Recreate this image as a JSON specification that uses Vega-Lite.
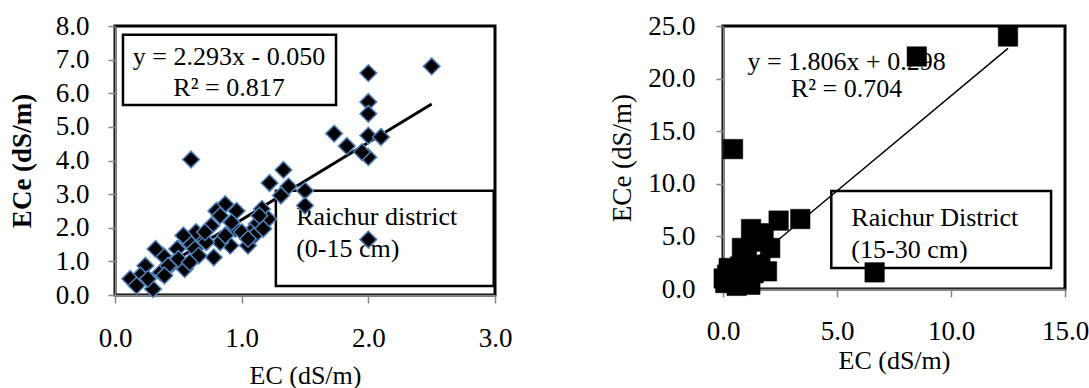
{
  "$schema": "https://vega.github.io/schema/vega-lite/v6.json",
  "background": "white",
  "padding": {"left": 6, "top": 10, "right": 0, "bottom": 0},
  "spacing": 93,
  "config": {
    "font": "Liberation Serif",
    "view": {"stroke": "black", "strokeWidth": 3},
    "style": {"guide-label": {"font": "Liberation Serif"}, "guide-title": {"font": "Liberation Serif"}},
    "axis": {
      "grid": false,
      "domainColor": "#868686",
      "domainWidth": 1.5,
      "tickColor": "#868686",
      "tickWidth": 1.5,
      "labelFont": "Liberation Serif",
      "labelFontSize": 27,
      "labelColor": "black",
      "titleFont": "Liberation Serif",
      "titleFontSize": 26,
      "titleColor": "black",
      "titleFontWeight": "normal",
      "labelFlush": false,
      "labelOverlap": false,
      "labelSeparation": 0
    }
  },
  "datasets": {
    "top": [
      {"ec": 2.5, "ece": 6.8}, {"ec": 2.0, "ece": 6.6}, {"ec": 2.0, "ece": 5.74}, {"ec": 2.0, "ece": 5.39},
      {"ec": 2.0, "ece": 4.74}, {"ec": 2.1, "ece": 4.7}, {"ec": 2.0, "ece": 4.1}, {"ec": 1.95, "ece": 4.25},
      {"ec": 1.83, "ece": 4.43}, {"ec": 1.73, "ece": 4.8}, {"ec": 0.6, "ece": 4.03}, {"ec": 2.0, "ece": 1.65},
      {"ec": 1.33, "ece": 3.72}, {"ec": 1.22, "ece": 3.33}, {"ec": 1.37, "ece": 3.23}, {"ec": 1.31, "ece": 2.96},
      {"ec": 1.5, "ece": 3.1}, {"ec": 1.5, "ece": 2.66}, {"ec": 1.16, "ece": 2.56}, {"ec": 0.96, "ece": 2.5},
      {"ec": 0.87, "ece": 2.7}, {"ec": 0.8, "ece": 2.5}, {"ec": 1.21, "ece": 2.26}, {"ec": 1.12, "ece": 2.11},
      {"ec": 1.07, "ece": 1.87}, {"ec": 1.05, "ece": 1.47}, {"ec": 0.95, "ece": 1.97}, {"ec": 0.91, "ece": 1.47},
      {"ec": 0.83, "ece": 1.57}, {"ec": 0.78, "ece": 1.12}, {"ec": 0.76, "ece": 2.06}, {"ec": 0.7, "ece": 1.67},
      {"ec": 0.64, "ece": 1.87}, {"ec": 0.57, "ece": 1.62}, {"ec": 0.54, "ece": 1.77}, {"ec": 0.49, "ece": 1.37},
      {"ec": 0.55, "ece": 0.77}, {"ec": 0.45, "ece": 0.92}, {"ec": 0.38, "ece": 1.17}, {"ec": 0.32, "ece": 1.37},
      {"ec": 0.3, "ece": 0.18}, {"ec": 0.36, "ece": 0.67}, {"ec": 0.24, "ece": 0.87}, {"ec": 0.2, "ece": 0.58},
      {"ec": 0.12, "ece": 0.48}, {"ec": 0.17, "ece": 0.28}, {"ec": 0.63, "ece": 1.37}, {"ec": 0.66, "ece": 1.17},
      {"ec": 0.5, "ece": 1.07}, {"ec": 0.42, "ece": 0.87}, {"ec": 0.72, "ece": 1.57}, {"ec": 0.87, "ece": 1.77},
      {"ec": 1.0, "ece": 1.87}, {"ec": 1.1, "ece": 1.77}, {"ec": 1.17, "ece": 1.97}, {"ec": 1.14, "ece": 2.36},
      {"ec": 0.92, "ece": 2.16}, {"ec": 1.05, "ece": 1.67}, {"ec": 0.59, "ece": 0.97}, {"ec": 0.39, "ece": 0.58},
      {"ec": 0.26, "ece": 0.48}, {"ec": 0.71, "ece": 1.87}, {"ec": 0.83, "ece": 2.36}
    ],
    "sub": [
      {"ec": 12.5, "ece": 24.0}, {"ec": 8.5, "ece": 22.1}, {"ec": 0.44, "ece": 13.3}, {"ec": 6.65, "ece": 1.58},
      {"ec": 3.39, "ece": 6.65}, {"ec": 2.44, "ece": 6.5}, {"ec": 1.23, "ece": 5.7}, {"ec": 1.78, "ece": 5.3},
      {"ec": 2.07, "ece": 3.9}, {"ec": 0.83, "ece": 3.9}, {"ec": 1.05, "ece": 3.1}, {"ec": 1.93, "ece": 1.68},
      {"ec": 1.64, "ece": 2.3}, {"ec": 0.18, "ece": 1.36}, {"ec": 0.1, "ece": 0.57}, {"ec": 0.54, "ece": 0.57},
      {"ec": 0.9, "ece": 0.9}, {"ec": 1.34, "ece": 1.5}, {"ec": 0.76, "ece": 2.15}, {"ec": 0.32, "ece": 1.8},
      {"ec": 0.03, "ece": 1.0}, {"ec": 1.2, "ece": 0.4}, {"ec": 1.64, "ece": 4.5}, {"ec": 1.27, "ece": 4.8},
      {"ec": 0.25, "ece": 2.0}, {"ec": 0.6, "ece": 0.3}
    ]
  },
  "hconcat": [
    {
      "width": 380,
      "height": 269,
      "encoding": {
        "x": {"type": "quantitative", "scale": {"domain": [0, 3], "nice": false},
              "axis": {"values": [0, 1, 2, 3], "format": ".1f", "title": "EC (dS/m)", "labelFont": "Liberation Serif", "titleFont": "Liberation Serif", "labelOverlap": false, "tickSize": 8, "labelPadding": 22, "titlePadding": 11}},
        "y": {"type": "quantitative", "scale": {"domain": [0, 8], "nice": false},
              "axis": {"values": [0, 1, 2, 3, 4, 5, 6, 7, 8], "format": ".1f", "title": "ECe (dS/m)", "labelFont": "Liberation Serif", "titleFont": "Liberation Serif", "labelOverlap": false, "labelSeparation": 0, "labelBaseline": "middle", "titleFontWeight": "bold", "titleFontSize": 27, "tickSize": 7, "labelPadding": 19, "titlePadding": 19}}
      },
      "layer": [
        {
          "data": {"values": [
            {"x": 0.063, "x2": 1.745, "y": 7.74, "y2": 5.65},
            {"x": 1.27, "x2": 2.99, "y": 3.1, "y2": 0.27}
          ]},
          "mark": {"type": "rect", "fill": "white", "stroke": "black", "strokeWidth": 2.5},
          "encoding": {
            "x": {"field": "x", "type": "quantitative"},
            "x2": {"field": "x2"},
            "y": {"field": "y", "type": "quantitative"},
            "y2": {"field": "y2"}
          }
        },
        {
          "data": {"values": [
            {"x": 0.9, "y": 7.07, "t": "y = 2.293x - 0.050"},
            {"x": 0.9, "y": 6.15, "t": "R² = 0.817"}
          ]},
          "mark": {"type": "text", "font": "Liberation Serif", "fontSize": 26, "align": "center", "baseline": "middle", "color": "black"},
          "encoding": {
            "x": {"field": "x", "type": "quantitative"},
            "y": {"field": "y", "type": "quantitative"},
            "text": {"field": "t"}
          }
        },
        {
          "data": {"values": [
            {"x": 1.43, "y": 2.32, "t": "Raichur district"},
            {"x": 1.43, "y": 1.37, "t": "(0-15 cm)"}
          ]},
          "mark": {"type": "text", "font": "Liberation Serif", "fontSize": 26, "align": "left", "baseline": "middle", "color": "black"},
          "encoding": {
            "x": {"field": "x", "type": "quantitative"},
            "y": {"field": "y", "type": "quantitative"},
            "text": {"field": "t"}
          }
        },
        {
          "data": {"values": [{"ec": 0.12, "ece": 0.225}, {"ec": 2.5, "ece": 5.68}]},
          "mark": {"type": "line", "color": "black", "strokeWidth": 3},
          "encoding": {
            "x": {"field": "ec", "type": "quantitative"},
            "y": {"field": "ece", "type": "quantitative"}
          }
        },
        {
          "data": {"name": "top"},
          "mark": {"type": "point", "shape": "diamond", "filled": true, "fill": "black", "stroke": "#4f81bd", "strokeWidth": 1.5, "size": 280, "opacity": 1},
          "encoding": {
            "x": {"field": "ec", "type": "quantitative"},
            "y": {"field": "ece", "type": "quantitative"}
          }
        }
      ]
    },
    {
      "width": 342,
      "height": 263,
      "encoding": {
        "x": {"type": "quantitative", "scale": {"domain": [0, 15], "nice": false},
              "axis": {"values": [0, 5, 10, 15], "format": ".1f", "title": "EC (dS/m)", "labelFont": "Liberation Serif", "titleFont": "Liberation Serif", "labelOverlap": false, "tickSize": 8, "labelPadding": 21, "titlePadding": 3}},
        "y": {"type": "quantitative", "scale": {"domain": [0, 25], "nice": false},
              "axis": {"values": [0, 5, 10, 15, 20, 25], "format": ".1f", "title": "ECe (dS/m)", "labelFont": "Liberation Serif", "titleFont": "Liberation Serif", "labelOverlap": false, "titleFontSize": 27, "tickSize": 7, "labelPadding": 21, "titlePadding": 11}}
      },
      "layer": [
        {
          "data": {"values": [
            {"x": 4.75, "x2": 14.39, "y": 9.32, "y2": 2.0}
          ]},
          "mark": {"type": "rect", "fill": "white", "stroke": "black", "strokeWidth": 2.5},
          "encoding": {
            "x": {"field": "x", "type": "quantitative"},
            "x2": {"field": "x2"},
            "y": {"field": "y", "type": "quantitative"},
            "y2": {"field": "y2"}
          }
        },
        {
          "data": {"values": [
            {"x": 5.42, "y": 21.6, "t": "y = 1.806x + 0.298"},
            {"x": 5.42, "y": 19.0, "t": "R² = 0.704"}
          ]},
          "mark": {"type": "text", "font": "Liberation Serif", "fontSize": 26, "align": "center", "baseline": "middle", "color": "black"},
          "encoding": {
            "x": {"field": "x", "type": "quantitative"},
            "y": {"field": "y", "type": "quantitative"},
            "text": {"field": "t"}
          }
        },
        {
          "data": {"values": [
            {"x": 5.63, "y": 6.75, "t": "Raichur District"},
            {"x": 5.63, "y": 3.7, "t": "(15-30 cm)"}
          ]},
          "mark": {"type": "text", "font": "Liberation Serif", "fontSize": 26, "align": "left", "baseline": "middle", "color": "black"},
          "encoding": {
            "x": {"field": "x", "type": "quantitative"},
            "y": {"field": "y", "type": "quantitative"},
            "text": {"field": "t"}
          }
        },
        {
          "data": {"values": [{"ec": 0.1, "ece": 0.48}, {"ec": 12.5, "ece": 22.87}]},
          "mark": {"type": "line", "color": "black", "strokeWidth": 1.5},
          "encoding": {
            "x": {"field": "ec", "type": "quantitative"},
            "y": {"field": "ece", "type": "quantitative"}
          }
        },
        {
          "data": {"name": "sub"},
          "mark": {"type": "point", "shape": "square", "filled": true, "fill": "black", "stroke": "black", "strokeWidth": 0.5, "size": 380, "opacity": 1},
          "encoding": {
            "x": {"field": "ec", "type": "quantitative"},
            "y": {"field": "ece", "type": "quantitative"}
          }
        }
      ]
    }
  ]
}
